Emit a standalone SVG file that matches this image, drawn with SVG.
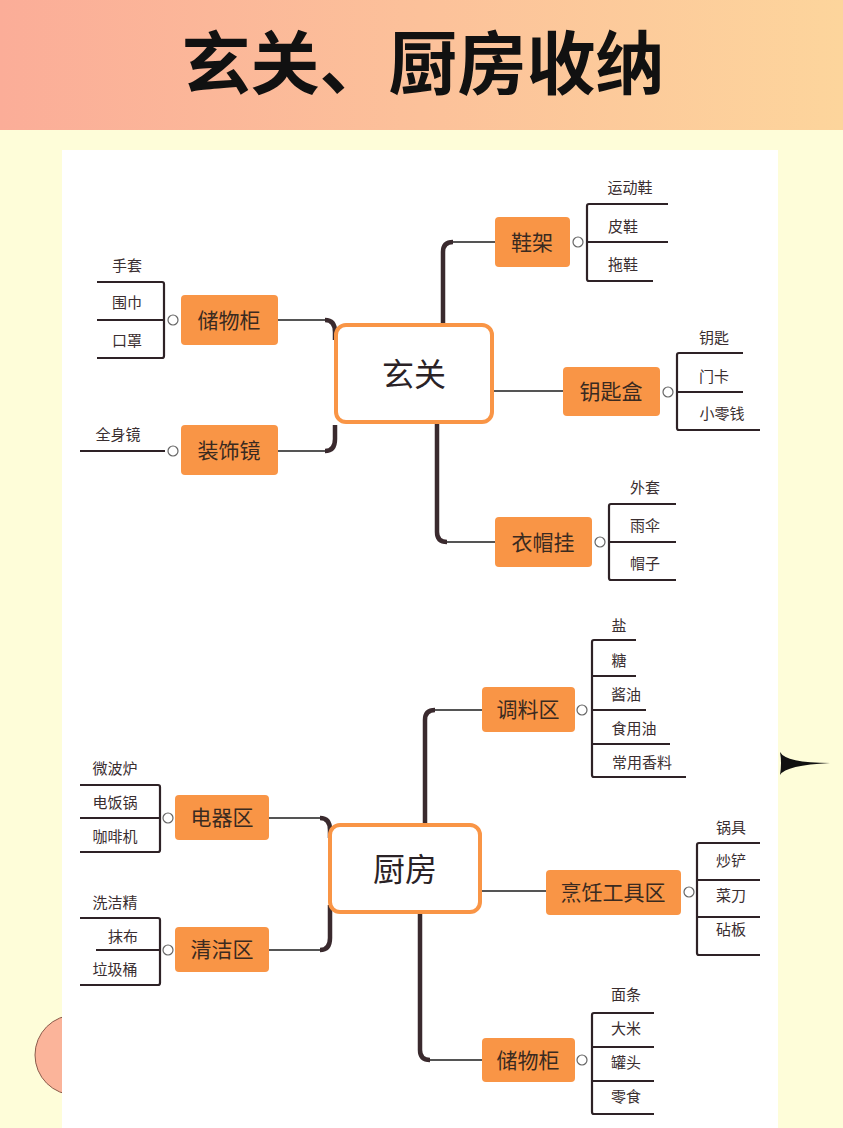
<svg xmlns="http://www.w3.org/2000/svg" width="843" height="1128" viewBox="0 0 843 1128">
<defs>
<linearGradient id="hg" x1="0" x2="1" y1="0" y2="0"><stop offset="0" stop-color="#fbad98"/><stop offset="1" stop-color="#fdd59c"/></linearGradient>
<style>
text{font-family:"Noto Sans CJK SC","Noto Sans",sans-serif;}
.n rect{fill:#f99546;}
.n text{font-size:21px;fill:#3a2a20;text-anchor:middle;}
.c rect{fill:#fff;stroke:#f99546;stroke-width:4;}
.c text{font-size:32px;fill:#2a2226;text-anchor:middle;}
.s{font-size:15px;fill:#3a2e30;text-anchor:middle;}
.thick{fill:none;stroke:#3a2a2e;stroke-width:4.5;}
.thin{fill:none;stroke:#555;stroke-width:1.8;}
.l{fill:none;stroke:#2e2226;stroke-width:2.2;}
.o{fill:#fff;stroke:#666;stroke-width:1.2;}
</style>
</defs>
<rect width="843" height="1128" fill="#fefdd9"/>
<rect width="843" height="130" fill="url(#hg)"/>
<text x="423" y="89" font-size="69" font-weight="bold" text-anchor="middle" fill="#111" style="font-family:'Noto Sans CJK SC',sans-serif">玄关、厨房收纳</text>
<circle cx="75" cy="1055" r="40" fill="#fbb49a" stroke="#8a5a4a" stroke-width="1"/>
<path d="M780 752 Q786 763 830 763 Q786 765 780 775 Q782 763 780 752Z" fill="#111"/>
<rect x="62" y="150" width="716" height="978" fill="#fff"/>
<g id="connectors">
<path class="thick" d="M443 325 V252 Q443 242 453 242"/><path class="thin" d="M453 242 H495"/>
<path class="thick" d="M437 422 V532 Q437 542 447 542"/><path class="thin" d="M447 542 H495"/>
<path class="thin" d="M492 391 H563"/>
<path class="thin" d="M278 320 H325"/><path class="thick" d="M325 320 Q335 320 335 332 V340"/>
<path class="thin" d="M278 451 H325"/><path class="thick" d="M325 451 Q335 451 335 439 V425"/>
<path class="thick" d="M425 825 V720 Q425 710 435 710"/><path class="thin" d="M435 710 H482"/>
<path class="thick" d="M420 912 V1050 Q420 1060 430 1060"/><path class="thin" d="M430 1060 H482"/>
<path class="thin" d="M480 891 H546"/>
<path class="thin" d="M269 818 H320"/><path class="thick" d="M320 818 Q330 818 330 830 V838"/>
<path class="thin" d="M269 950 H320"/><path class="thick" d="M320 950 Q330 950 330 938 V905"/>
<path class="l" d="M668 204 H589 Q587 204 587 206 V279 Q587 281 589 281 H653 M587 242 H668"/>
<path class="l" d="M97 282 H162 Q164 282 164 284 V356 Q164 358 162 358 H97 M97 320 H164"/>
<path class="l" d="M80 451 H165"/>
<path class="l" d="M743 353 H679 Q677 353 677 355 V428 Q677 430 679 430 H760 M677 392 H743"/>
<path class="l" d="M676 504 H611 Q609 504 609 506 V578 Q609 580 611 580 H676 M609 542 H676"/>
<path class="l" d="M636 640 H594 Q592 640 592 642 V775 Q592 777 594 777 H686 M592 676 H636 M592 710 H646 M592 744 H670"/>
<path class="l" d="M80 785 H158 Q160 785 160 787 V850 Q160 852 158 852 H80 M80 818 H160"/>
<path class="l" d="M80 918 H158 Q160 918 160 920 V983 Q160 985 158 985 H80 M96 950 H160"/>
<path class="l" d="M760 843 H699 Q697 843 697 845 V953 Q697 955 699 955 H760 M697 880 H760 M697 917 H760"/>
<path class="l" d="M654 1013 H594 Q592 1013 592 1015 V1112 Q592 1114 594 1114 H654 M592 1047 H654 M592 1081 H654"/>
<circle class="o" cx="578" cy="242" r="5"/><circle class="o" cx="173" cy="320" r="5"/><circle class="o" cx="173" cy="451" r="5"/>
<circle class="o" cx="668" cy="392" r="5"/><circle class="o" cx="600" cy="542" r="5"/><circle class="o" cx="582" cy="710" r="5"/>
<circle class="o" cx="168" cy="818" r="5"/><circle class="o" cx="168" cy="950" r="5"/><circle class="o" cx="689" cy="892" r="5"/><circle class="o" cx="582" cy="1060" r="5"/>
</g>
<g id="xuanguan" class="c"><rect x="336" y="325" width="156" height="97" rx="10"/><text x="414" y="386">玄关</text></g>
<g id="chufang" class="c"><rect x="330" y="825" width="150" height="87" rx="10"/><text x="405" y="881">厨房</text></g>
<g id="xiejia" class="n"><rect x="495" y="217" width="75" height="50" rx="4"/><text x="532" y="250">鞋架</text></g>
<g id="chuwugui1" class="n"><rect x="181" y="295" width="97" height="50" rx="4"/><text x="229" y="328">储物柜</text></g>
<g id="zhuangshijing" class="n"><rect x="181" y="425" width="97" height="50" rx="4"/><text x="229" y="458">装饰镜</text></g>
<g id="yaoshihe" class="n"><rect x="563" y="367" width="97" height="49" rx="4"/><text x="611" y="399">钥匙盒</text></g>
<g id="yimaogua" class="n"><rect x="495" y="517" width="97" height="50" rx="4"/><text x="543" y="550">衣帽挂</text></g>
<g id="tiaoliaoqu" class="n"><rect x="482" y="687" width="93" height="45" rx="4"/><text x="528" y="717">调料区</text></g>
<g id="dianqiqu" class="n"><rect x="175" y="795" width="94" height="45" rx="4"/><text x="222" y="825">电器区</text></g>
<g id="qingjiequ" class="n"><rect x="175" y="927" width="94" height="45" rx="4"/><text x="222" y="957">清洁区</text></g>
<g id="pengren" class="n"><rect x="546" y="870" width="135" height="45" rx="4"/><text x="613" y="900">烹饪工具区</text></g>
<g id="chuwugui2" class="n"><rect x="482" y="1038" width="93" height="44" rx="4"/><text x="528" y="1068">储物柜</text></g>
<g id="subs">
<text class="s" x="630" y="193">运动鞋</text><text class="s" x="623" y="232">皮鞋</text><text class="s" x="623" y="270">拖鞋</text>
<text class="s" x="127" y="271">手套</text><text class="s" x="127" y="308">围巾</text><text class="s" x="127" y="346">口罩</text>
<text class="s" x="118" y="440">全身镜</text>
<text class="s" x="714" y="343">钥匙</text><text class="s" x="714" y="382">门卡</text><text class="s" x="722" y="419">小零钱</text>
<text class="s" x="645" y="493">外套</text><text class="s" x="645" y="531">雨伞</text><text class="s" x="645" y="569">帽子</text>
<text class="s" x="619" y="631">盐</text><text class="s" x="619" y="666">糖</text><text class="s" x="626" y="700">酱油</text><text class="s" x="634" y="734">食用油</text><text class="s" x="642" y="768">常用香料</text>
<text class="s" x="115" y="774">微波炉</text><text class="s" x="115" y="808">电饭锅</text><text class="s" x="115" y="842">咖啡机</text>
<text class="s" x="115" y="908">洗洁精</text><text class="s" x="123" y="942">抹布</text><text class="s" x="115" y="975">垃圾桶</text>
<text class="s" x="731" y="833">锅具</text><text class="s" x="731" y="866">炒铲</text><text class="s" x="731" y="901">菜刀</text><text class="s" x="731" y="935">砧板</text>
<text class="s" x="626" y="1000">面条</text><text class="s" x="626" y="1034">大米</text><text class="s" x="626" y="1068">罐头</text><text class="s" x="626" y="1102">零食</text>
</g>
</svg>
